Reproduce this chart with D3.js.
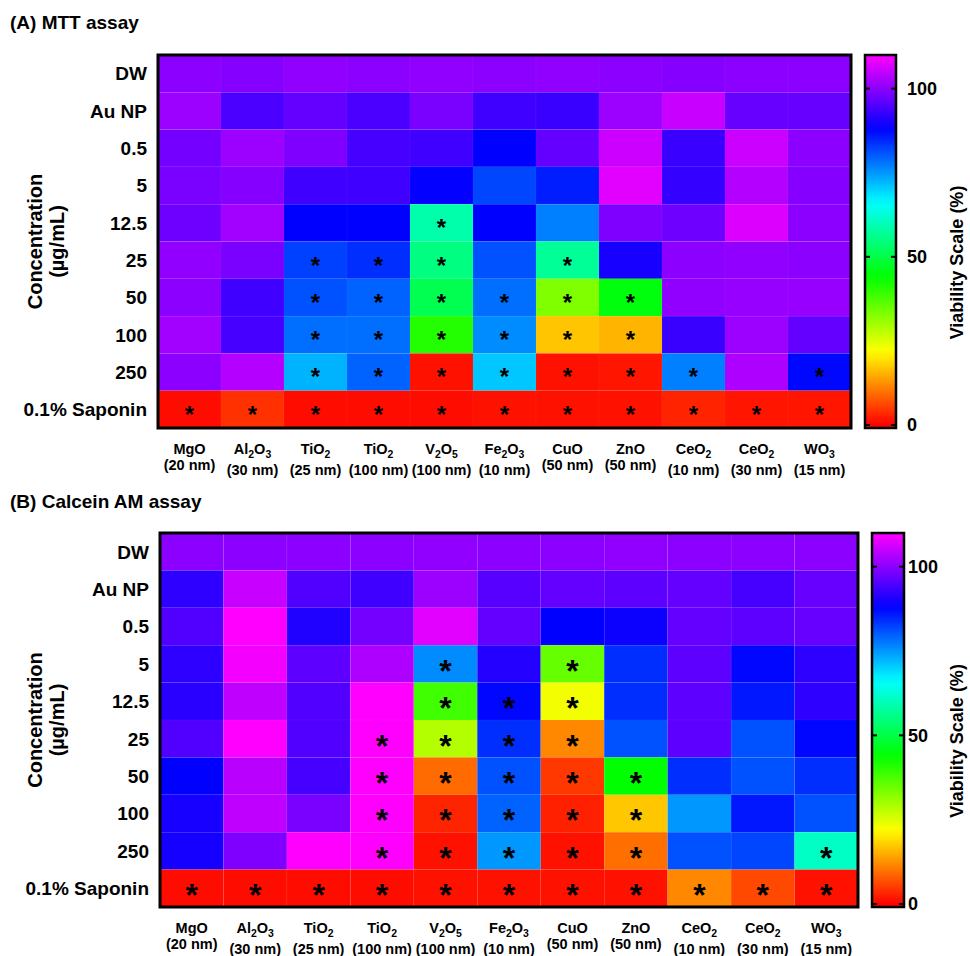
<!DOCTYPE html>
<html>
<head>
<meta charset="utf-8">
<script src="https://cdn.jsdelivr.net/npm/d3@7"></script>
<style>
  body { margin: 0; background: #fff; }
  svg text { font-family: "Liberation Sans", Arial, Helvetica, sans-serif; font-weight: bold; fill: #000; }
</style>
</head>
<body>
<div id="chart"></div>
<script>
// rows / columns
const concentrations = ['DW', 'Au NP', '0.5', '5', '12.5', '25', '50', '100', '250', '0.1% Saponin']
const particles = ['MgO', 'Al_2O_3', 'TiO_2', 'TiO_2', 'V_2O_5', 'Fe_2O_3', 'CuO', 'ZnO', 'CeO_2', 'CeO_2', 'WO_3']
const sizes = ['(20 nm)', '(30 nm)', '(25 nm)', '(100 nm)', '(100 nm)', '(10 nm)', '(50 nm)', '(50 nm)', '(10 nm)', '(30 nm)', '(15 nm)']
const scaleTicks = [0, 50, 100]

// (A) MTT viability (%), one row per concentration
const mttValues = [
  [100, 99.5, 100.5, 100, 100.5, 100, 100.5, 100, 99.5, 100, 100],
  [101.5, 94.5, 96.5, 94.5, 98.5, 93.5, 93, 101.5, 105.2, 97, 97],
  [98, 101.5, 99, 94, 93.5, 88, 96.5, 105.5, 93, 105.5, 100],
  [98.5, 99.5, 93.5, 93.5, 88.3, 82, 85.5, 107.5, 92.5, 103.5, 99.5],
  [97.5, 102, 88, 88, 58.7, 88, 77, 99, 97.5, 107, 100],
  [100.5, 98.5, 82.5, 84, 55, 81, 57, 90, 100, 100.5, 100],
  [100, 93.5, 81, 79.5, 51, 78.5, 33, 45, 100.5, 101, 101],
  [102, 94, 78.5, 78.5, 41, 76, 17, 15.5, 93, 101.5, 96.5],
  [100, 103.5, 72.6, 79.5, 1.5, 70.8, 1.5, 1.8, 77, 103, 87.4],
  [1, 4.2, 1, 1, 1, 1.5, 1.5, 1.5, 3, 1.8, 1.8]
]
const mttStars = [
  [0, 0, 0, 0, 0, 0, 0, 0, 0, 0, 0],
  [0, 0, 0, 0, 0, 0, 0, 0, 0, 0, 0],
  [0, 0, 0, 0, 0, 0, 0, 0, 0, 0, 0],
  [0, 0, 0, 0, 0, 0, 0, 0, 0, 0, 0],
  [0, 0, 0, 0, 1, 0, 0, 0, 0, 0, 0],
  [0, 0, 1, 1, 1, 0, 1, 0, 0, 0, 0],
  [0, 0, 1, 1, 1, 1, 1, 1, 0, 0, 0],
  [0, 0, 1, 1, 1, 1, 1, 1, 0, 0, 0],
  [0, 0, 1, 1, 1, 1, 1, 1, 1, 0, 1],
  [1, 1, 1, 1, 1, 1, 1, 1, 1, 1, 1]
]

// (B) Calcein AM viability (%)
const calceinValues = [
  [100, 100, 100, 100, 100.5, 100, 100, 100.5, 100, 100, 100],
  [92, 105.2, 95, 93.5, 101.5, 95.5, 96.5, 96, 96.5, 94, 97],
  [95, 110, 90.8, 98, 107.5, 96.5, 88, 89, 96.5, 96, 97],
  [92, 109, 96, 103, 76, 91, 35.2, 84, 96, 87.5, 92],
  [91.5, 104.5, 95, 110, 38.5, 87.5, 23, 84, 96, 86, 92],
  [95, 110, 95, 110, 28.6, 84, 11.7, 81, 96, 81, 87.5],
  [88, 104, 94, 110, 9.2, 81, 4.8, 44, 84, 81, 84],
  [90, 104.5, 98.5, 110, 3.1, 79.5, 2.8, 17.2, 75, 86, 81],
  [89.8, 99, 110, 110, 1.5, 75, 1.5, 9.6, 81, 82, 61],
  [1, 1, 1, 1, 1.5, 1.5, 1.5, 1.5, 11.7, 6.2, 1.5]
]
const calceinStars = [
  [0, 0, 0, 0, 0, 0, 0, 0, 0, 0, 0],
  [0, 0, 0, 0, 0, 0, 0, 0, 0, 0, 0],
  [0, 0, 0, 0, 0, 0, 0, 0, 0, 0, 0],
  [0, 0, 0, 0, 1, 0, 1, 0, 0, 0, 0],
  [0, 0, 0, 0, 1, 1, 1, 0, 0, 0, 0],
  [0, 0, 0, 1, 1, 1, 1, 0, 0, 0, 0],
  [0, 0, 0, 1, 1, 1, 1, 1, 0, 0, 0],
  [0, 0, 0, 1, 1, 1, 1, 1, 0, 0, 0],
  [0, 0, 0, 1, 1, 1, 1, 1, 0, 0, 1],
  [1, 1, 1, 1, 1, 1, 1, 1, 1, 1, 1]
]

const W = 970, H = 956
const vmax = 110

// rainbow: red (0) -> magenta (110)
const color = v => d3.hsl(Math.max(0, Math.min(300, v * 300 / vmax)), 1, 0.5).formatHex()

const svg = d3.select('#chart').append('svg')
  .attr('width', W)
  .attr('height', H)

const defs = svg.append('defs')

// writes "Al_2O_3" with sub-scripted digits
const subText = (sel, str, fs) => {
  const parts = str.split(/(_\d)/).filter(p => p !== '')
  let down = false
  parts.forEach(p => {
    if (p[0] === '_') {
      sel.append('tspan').attr('font-size', fs * 0.72).attr('dy', down ? 0 : fs * 0.3).text(p.slice(1))
      down = true
    } else {
      sel.append('tspan').attr('dy', down ? -fs * 0.3 : 0).text(p)
      down = false
    }
  })
}

const drawPanel = (opt) => {
  const g = svg.append('g')
  const x = d3.scaleBand().domain(d3.range(particles.length)).range([opt.left, opt.right])
  const y = d3.scaleBand().domain(d3.range(concentrations.length)).range([opt.top, opt.bottom])

  g.append('text')
    .attr('x', 10)
    .attr('y', opt.titleY)
    .attr('font-size', 19)
    .text(opt.title)

  const cells = []
  opt.values.forEach((row, i) => row.forEach((v, j) => cells.push({ i, j, v, star: opt.stars[i][j] })))

  g.append('g').selectAll('rect')
    .data(cells)
    .enter().append('rect')
    .attr('x', d => x(d.j))
    .attr('y', d => y(d.i))
    .attr('width', x.bandwidth())
    .attr('height', y.bandwidth())
    .attr('fill', d => color(d.v))
    .attr('stroke', 'rgba(255,255,255,0.06)')
    .attr('stroke-width', 0.6)

  // significance marks
  g.append('g').selectAll('text')
    .data(cells.filter(d => d.star))
    .enter().append('text')
    .attr('x', d => x(d.j) + x.bandwidth() / 2)
    .attr('y', d => y(d.i) + y.bandwidth() / 2 + opt.starSize * 0.56)
    .attr('text-anchor', 'middle')
    .attr('font-size', opt.starSize)
    .attr('font-weight', 'normal')
    .text('*')

  g.append('rect')
    .attr('x', opt.left)
    .attr('y', opt.top)
    .attr('width', opt.right - opt.left)
    .attr('height', opt.bottom - opt.top)
    .attr('fill', 'none')
    .attr('stroke', '#000')
    .attr('stroke-width', 3)

  // row labels
  g.append('g').selectAll('text')
    .data(concentrations)
    .enter().append('text')
    .attr('x', opt.left - 11)
    .attr('y', (d, i) => y(i) + y.bandwidth() / 2)
    .attr('dy', '0.36em')
    .attr('text-anchor', 'end')
    .attr('font-size', 19)
    .text(d => d)

  // column labels, two lines
  const xl = g.append('g').selectAll('g')
    .data(particles)
    .enter().append('g')
    .attr('transform', (d, j) => 'translate(' + (x(j) + x.bandwidth() / 2) + ',' + opt.bottom + ')')
  xl.append('text')
    .attr('y', 26)
    .attr('text-anchor', 'middle')
    .attr('font-size', 14.5)
    .each(function (d) { subText(d3.select(this), d, 14.5) })
  xl.append('text')
    .attr('y', (d) => d.indexOf('_') >= 0 ? 47 : 42)
    .attr('text-anchor', 'middle')
    .attr('font-size', 14.5)
    .text((d, j) => sizes[j])

  // y title
  const mid = (opt.top + opt.bottom) / 2
  g.append('text')
    .attr('transform', 'translate(42,' + mid + ') rotate(-90)')
    .attr('text-anchor', 'middle')
    .attr('font-size', 20)
    .text('Concentration')
  g.append('text')
    .attr('transform', 'translate(64,' + mid + ') rotate(-90)')
    .attr('text-anchor', 'middle')
    .attr('font-size', 20)
    .text('(µg/mL)')

  // colour bar
  const c = d3.scaleLinear().domain([0, vmax]).range([opt.bottom - 3, opt.top])
  const gid = 'grad' + opt.id
  const grad = defs.append('linearGradient')
    .attr('id', gid)
    .attr('gradientUnits', 'userSpaceOnUse')
    .attr('x1', 0).attr('x2', 0)
    .attr('y1', c(0)).attr('y2', c(vmax))
  d3.range(0, vmax + 0.1, 2.5).forEach(v => {
    grad.append('stop').attr('offset', v / vmax).attr('stop-color', color(v))
  })
  g.append('rect')
    .attr('x', opt.barLeft)
    .attr('y', opt.top)
    .attr('width', opt.barWidth)
    .attr('height', opt.bottom - opt.top)
    .attr('fill', 'url(#' + gid + ')')
    .attr('stroke', '#000')
    .attr('stroke-width', 2.5)

  const bt = g.append('g').selectAll('g')
    .data(scaleTicks)
    .enter().append('g')
    .attr('transform', d => 'translate(0,' + c(d) + ')')
  bt.append('line')
    .attr('x1', opt.barLeft).attr('x2', opt.barLeft + 5)
    .attr('stroke', '#000').attr('stroke-width', 2)
  bt.append('line')
    .attr('x1', opt.barLeft + opt.barWidth - 5).attr('x2', opt.barLeft + opt.barWidth)
    .attr('stroke', '#000').attr('stroke-width', 2)
  bt.append('text')
    .attr('x', opt.barLeft + opt.barWidth + opt.tickGap)
    .attr('dy', '0.36em')
    .attr('font-size', 18)
    .text(d => d)

  g.append('text')
    .attr('transform', 'translate(963,' + (mid + 21) + ') rotate(-90)')
    .attr('text-anchor', 'middle')
    .attr('font-size', 18)
    .text('Viability Scale (%)')
}

drawPanel({
  id: 'A', title: '(A) MTT assay', titleY: 29,
  values: mttValues, stars: mttStars,
  left: 158, right: 851, top: 55, bottom: 428,
  barLeft: 865, barWidth: 31, tickGap: 11, starSize: 24
})

drawPanel({
  id: 'B', title: '(B) Calcein AM assay', titleY: 508,
  values: calceinValues, stars: calceinStars,
  left: 160, right: 858, top: 533, bottom: 907,
  barLeft: 872, barWidth: 32, tickGap: 4, starSize: 32
})
</script>
</body>
</html>
